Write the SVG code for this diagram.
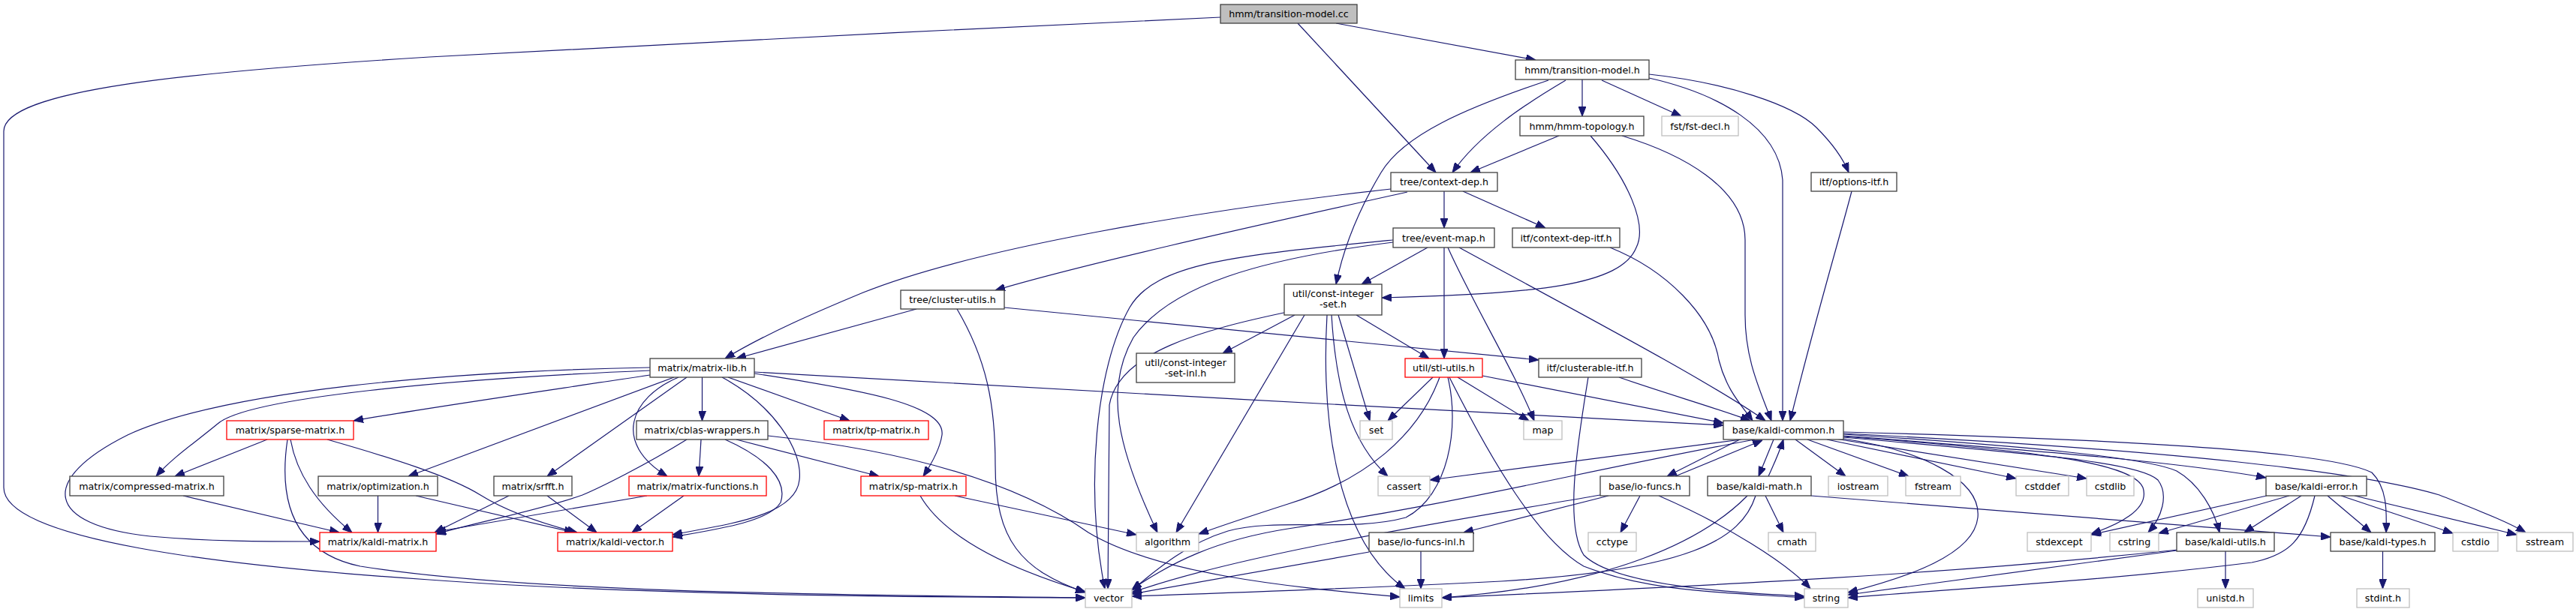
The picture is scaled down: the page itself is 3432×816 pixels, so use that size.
<svg xmlns="http://www.w3.org/2000/svg" width="3432" height="816" viewBox="0 0 3432 816">
<style>
rect{fill:#fff;stroke:#404040;stroke-width:1.3}
.root rect{fill:#bfbfbf}
.red rect{stroke:#ff0000}
.ext rect{stroke:#bfbfbf}
text{font-family:'DejaVu Sans','Liberation Sans',sans-serif;font-size:12.7px;text-anchor:middle;fill:#000}
#edges path{fill:none;stroke:#191970;stroke-width:1.2;marker-end:url(#ah)}
</style>
<defs>
<marker id="ah" markerWidth="13" markerHeight="10" refX="13" refY="5" orient="auto" markerUnits="userSpaceOnUse"><path d="M0,0 L13,5 L0,10 z" fill="#191970" stroke="#191970" stroke-width="1"/></marker>
</defs>
<rect x="0" y="0" width="3432" height="816" style="fill:#fff;stroke:none"/>
<g id="edges">
<path d="M1780,31 L2046,80"/>
<path d="M1729,31 L1913,230"/>
<path d="M1626,23 C1300,38 800,62 572,76 C250,96 5,120 5,175 L5,650 C5,720 300,755 572,773 C800,790 1100,796 1446,797"/>
<path d="M2086,107 C2030,140 1970,180 1935,230"/>
<path d="M2063,107 C1950,145 1870,180 1840,230 C1810,280 1790,330 1780,379"/>
<path d="M2108,106 L2108,155"/>
<path d="M2134,107 L2240,155"/>
<path d="M2197,99 C2300,110 2390,140 2420,170 C2440,190 2455,210 2463,230"/>
<path d="M2197,104 C2290,125 2370,170 2375,240 L2375,561"/>
<path d="M2077,181 L1959,230"/>
<path d="M2119,181 C2170,240 2195,300 2180,330 C2160,380 2050,392 1841,397"/>
<path d="M2161,181 C2240,205 2325,250 2325,320 L2325,420 C2325,480 2345,520 2360,561"/>
<path d="M1924,255 L1924,304"/>
<path d="M1949,255 L2059,304"/>
<path d="M1853,252 C1600,280 1300,330 1150,390 C1090,415 1020,445 966,478"/>
<path d="M1875,256 C1700,295 1450,350 1326,387"/>
<path d="M2467,255 C2450,320 2420,420 2385,561"/>
<path d="M1924,330 L1924,478"/>
<path d="M1902,330 L1814,379"/>
<path d="M1929,330 C1960,400 2020,500 2044,561"/>
<path d="M1944,330 C2100,415 2280,510 2352,561"/>
<path d="M1856,320 C1650,340 1540,350 1505,410 C1460,490 1445,650 1472,785"/>
<path d="M1856,323 C1680,345 1560,380 1510,450 C1470,520 1490,600 1542,710"/>
<path d="M2145,330 C2220,360 2280,420 2290,480 C2300,520 2320,540 2335,561"/>
<path d="M1807,420 L1904,478"/>
<path d="M1725,420 L1629,471"/>
<path d="M1783,420 L1825,561"/>
<path d="M1774,420 C1780,520 1800,590 1849,635"/>
<path d="M1768,420 C1760,560 1780,720 1872,785"/>
<path d="M1720,415 C1600,440 1490,470 1478,540 L1476,785"/>
<path d="M1738,420 L1567,710"/>
<path d="M1221,412 L981,478"/>
<path d="M1338,410 L2050,480"/>
<path d="M1275,412 C1315,480 1326,540 1326,620 C1326,720 1360,760 1446,790"/>
<path d="M1005,496 C1400,520 1900,545 2296,567"/>
<path d="M1005,498 C1150,520 1260,540 1255,580 C1252,600 1240,620 1230,635"/>
<path d="M970,503 L1132,561"/>
<path d="M935.5,503 L935.5,561"/>
<path d="M962,503 C1030,540 1070,600 1065,640 C1060,690 960,700 896,713"/>
<path d="M904,503 C840,530 815,590 889,635"/>
<path d="M915,503 L729,635"/>
<path d="M898,503 L544,635"/>
<path d="M866,500 C700,525 560,545 471,561"/>
<path d="M866,494 C600,505 330,530 290,565 C260,590 230,610 208,635"/>
<path d="M866,490 C600,495 300,520 170,580 C50,640 60,700 200,715 C280,722 350,722 426,722"/>
<path d="M915,586 C860,620 800,650 776,660 C720,680 640,695 581,712"/>
<path d="M934,586 L931,635"/>
<path d="M966,586 C1020,610 1050,640 1040,670 C1025,695 960,705 896,716"/>
<path d="M981,586 L1171,635"/>
<path d="M1023,581 C1200,600 1350,640 1450,710 C1550,770 1750,785 1865,796"/>
<path d="M678,661 L579,710"/>
<path d="M729,661 L795,710"/>
<path d="M862,661 L581,709"/>
<path d="M911,661 L842,710"/>
<path d="M503.5,661 L503.5,710"/>
<path d="M554,661 L765,710"/>
<path d="M244,661 L452,710"/>
<path d="M356,586 L233,635"/>
<path d="M387,586 C395,630 420,670 469,710"/>
<path d="M383,586 C372,660 385,735 480,755 C700,790 1100,793 1446,797"/>
<path d="M436,586 C520,610 600,635 640,660 C680,685 730,700 769,710"/>
<path d="M1226,661 C1260,720 1350,760 1446,789"/>
<path d="M1272,661 L1514,713"/>
<path d="M1909,503 L1849,561"/>
<path d="M1942,503 L2037,561"/>
<path d="M1918,503 C1890,580 1820,640 1716,672 C1660,690 1630,700 1597,712"/>
<path d="M1929,503 C1945,570 1930,660 1873,690 C1800,710 1700,690 1636,708 C1580,725 1540,760 1508,787"/>
<path d="M1931,503 C1990,620 2050,720 2110,755 C2200,790 2300,790 2404,797"/>
<path d="M1975,501 L2296,564"/>
<path d="M2157,503 C2220,525 2290,545 2332,561"/>
<path d="M2116,503 C2100,600 2085,700 2110,740 C2150,780 2300,790 2404,795"/>
<path d="M2363,586 L2343,635"/>
<path d="M2356,635 C2365,615 2370,605 2376,586"/>
<path d="M2392,586 L2459,635"/>
<path d="M2408,586 L2543,635"/>
<path d="M2434,586 L2686,638"/>
<path d="M2445,585 L2780,638"/>
<path d="M2456,585 C2560,600 2640,640 2635,690 C2630,740 2540,770 2462,790"/>
<path d="M2456,581 C2700,600 2900,615 3019,637"/>
<path d="M2456,579 C2700,595 2860,610 2900,628 C2930,645 2950,680 2957,710"/>
<path d="M2456,576 C2800,585 3100,600 3160,630 C3180,650 3180,680 3179,710"/>
<path d="M2456,578 C2900,600 3150,630 3250,660 C3300,680 3340,695 3365,710"/>
<path d="M2456,582 C2700,600 2840,615 2855,650 C2865,680 2820,700 2786,712"/>
<path d="M2456,583 C2700,605 2850,615 2875,640 C2890,660 2880,690 2862,710"/>
<path d="M2320,586 L1905,640"/>
<path d="M2338,586 C2100,630 1950,670 1716,705 C1620,720 1560,750 1508,786"/>
<path d="M2318,586 L2221,635"/>
<path d="M2232,635 L2348,587"/>
<path d="M2185,661 L2159,710"/>
<path d="M2143,661 L1950,710"/>
<path d="M2210,661 C2300,700 2380,750 2412,785"/>
<path d="M2132,660 C1900,700 1650,740 1508,790"/>
<path d="M1893,735 L1893,785"/>
<path d="M1824,736 L1508,792"/>
<path d="M2352,661 L2376,710"/>
<path d="M2413,661 C2700,685 2950,705 3105,716"/>
<path d="M2328,661 C2270,720 2150,780 1921,797"/>
<path d="M2339,661 C2320,720 2250,760 2000,775 C1800,785 1650,790 1508,795"/>
<path d="M3020,661 L2786,713"/>
<path d="M3050,661 L2876,711"/>
<path d="M3066,661 L2990,710"/>
<path d="M3084,661 C3070,720 3050,740 3000,750 C2800,775 2600,785 2462,797"/>
<path d="M3101,661 L3159,710"/>
<path d="M3119,661 L3268,711"/>
<path d="M3137,661 L3353,713"/>
<path d="M2965,735 L2965,785"/>
<path d="M2900,734 C2700,760 2550,780 2462,793"/>
<path d="M2902,733 C2600,765 2300,780 1921,797"/>
<path d="M3174.5,735 L3174.5,785"/>
</g>
<g id="n_root" class="root"><rect x="1626" y="6" width="182" height="25"/><text x="1717" y="23">hmm/transition-model.cc</text></g>
<g id="n_tm_h"><rect x="2019" y="80" width="178" height="26"/><text x="2108" y="97.5">hmm/transition-model.h</text></g>
<g id="n_topo"><rect x="2025" y="155" width="165" height="26"/><text x="2107.5" y="172.5">hmm/hmm-topology.h</text></g>
<g id="n_fst" class="ext"><rect x="2214" y="155" width="102" height="26"/><text x="2265" y="172.5">fst/fst-decl.h</text></g>
<g id="n_cdep"><rect x="1853" y="230" width="142" height="25"/><text x="1924" y="247">tree/context-dep.h</text></g>
<g id="n_optitf"><rect x="2413" y="230" width="114" height="25"/><text x="2470" y="247">itf/options-itf.h</text></g>
<g id="n_emap"><rect x="1856" y="304" width="135" height="26"/><text x="1923.5" y="321.5">tree/event-map.h</text></g>
<g id="n_cdepitf"><rect x="2015" y="304" width="143" height="26"/><text x="2086.5" y="321.5">itf/context-dep-itf.h</text></g>
<g id="n_cis"><rect x="1711" y="379" width="130" height="41"/><text x="1776" y="396">util/const-integer</text><text x="1776" y="409.5">-set.h</text></g>
<g id="n_cutils"><rect x="1200" y="387" width="138" height="25"/><text x="1269" y="404">tree/cluster-utils.h</text></g>
<g id="n_mlib"><rect x="866" y="478" width="139" height="25"/><text x="935.5" y="495">matrix/matrix-lib.h</text></g>
<g id="n_stl" class="red"><rect x="1872" y="478" width="103" height="25"/><text x="1923.5" y="495">util/stl-utils.h</text></g>
<g id="n_clus"><rect x="2050" y="478" width="137" height="25"/><text x="2118.5" y="495">itf/clusterable-itf.h</text></g>
<g id="n_cisinl"><rect x="1514" y="471" width="131" height="39"/><text x="1579.5" y="488">util/const-integer</text><text x="1579.5" y="501.5">-set-inl.h</text></g>
<g id="n_sparse" class="red"><rect x="302" y="561" width="169" height="25"/><text x="386.5" y="578">matrix/sparse-matrix.h</text></g>
<g id="n_cblas"><rect x="848" y="561" width="175" height="25"/><text x="935.5" y="578">matrix/cblas-wrappers.h</text></g>
<g id="n_tp" class="red"><rect x="1098" y="561" width="139" height="25"/><text x="1167.5" y="578">matrix/tp-matrix.h</text></g>
<g id="n_set" class="ext"><rect x="1812" y="561" width="43" height="25"/><text x="1833.5" y="578">set</text></g>
<g id="n_map" class="ext"><rect x="2030" y="561" width="51" height="25"/><text x="2055.5" y="578">map</text></g>
<g id="n_kcommon"><rect x="2296" y="561" width="160" height="25"/><text x="2376" y="578">base/kaldi-common.h</text></g>
<g id="n_compressed"><rect x="93" y="635" width="205" height="26"/><text x="195.5" y="652.5">matrix/compressed-matrix.h</text></g>
<g id="n_optim"><rect x="424" y="635" width="159" height="26"/><text x="503.5" y="652.5">matrix/optimization.h</text></g>
<g id="n_srfft"><rect x="658" y="635" width="104" height="26"/><text x="710" y="652.5">matrix/srfft.h</text></g>
<g id="n_mfunc" class="red"><rect x="838" y="635" width="183" height="26"/><text x="929.5" y="652.5">matrix/matrix-functions.h</text></g>
<g id="n_sp" class="red"><rect x="1147" y="635" width="140" height="26"/><text x="1217" y="652.5">matrix/sp-matrix.h</text></g>
<g id="n_cassert" class="ext"><rect x="1836" y="635" width="69" height="26"/><text x="1870.5" y="652.5">cassert</text></g>
<g id="n_iofuncs"><rect x="2132" y="635" width="119" height="26"/><text x="2191.5" y="652.5">base/io-funcs.h</text></g>
<g id="n_kmath"><rect x="2275" y="635" width="138" height="26"/><text x="2344" y="652.5">base/kaldi-math.h</text></g>
<g id="n_iostream" class="ext"><rect x="2436" y="635" width="79" height="26"/><text x="2475.5" y="652.5">iostream</text></g>
<g id="n_fstream" class="ext"><rect x="2539" y="635" width="73" height="26"/><text x="2575.5" y="652.5">fstream</text></g>
<g id="n_cstddef" class="ext"><rect x="2686" y="635" width="70" height="26"/><text x="2721" y="652.5">cstddef</text></g>
<g id="n_cstdlib" class="ext"><rect x="2780" y="635" width="63" height="26"/><text x="2811.5" y="652.5">cstdlib</text></g>
<g id="n_kerror"><rect x="3019" y="635" width="134" height="26"/><text x="3086" y="652.5">base/kaldi-error.h</text></g>
<g id="n_kmatrix" class="red"><rect x="426" y="710" width="155" height="25"/><text x="503.5" y="727">matrix/kaldi-matrix.h</text></g>
<g id="n_kvector" class="red"><rect x="743" y="710" width="153" height="25"/><text x="819.5" y="727">matrix/kaldi-vector.h</text></g>
<g id="n_algorithm" class="ext"><rect x="1514" y="710" width="83" height="25"/><text x="1555.5" y="727">algorithm</text></g>
<g id="n_iofinl"><rect x="1824" y="710" width="139" height="25"/><text x="1893.5" y="727">base/io-funcs-inl.h</text></g>
<g id="n_cctype" class="ext"><rect x="2116" y="710" width="64" height="25"/><text x="2148" y="727">cctype</text></g>
<g id="n_cmath" class="ext"><rect x="2356" y="710" width="63" height="25"/><text x="2387.5" y="727">cmath</text></g>
<g id="n_stdexcept" class="ext"><rect x="2701" y="710" width="85" height="25"/><text x="2743.5" y="727">stdexcept</text></g>
<g id="n_cstring" class="ext"><rect x="2811" y="710" width="65" height="25"/><text x="2843.5" y="727">cstring</text></g>
<g id="n_kutils"><rect x="2900" y="710" width="130" height="25"/><text x="2965" y="727">base/kaldi-utils.h</text></g>
<g id="n_ktypes"><rect x="3105" y="710" width="139" height="25"/><text x="3174.5" y="727">base/kaldi-types.h</text></g>
<g id="n_cstdio" class="ext"><rect x="3268" y="710" width="60" height="25"/><text x="3298" y="727">cstdio</text></g>
<g id="n_sstream" class="ext"><rect x="3353" y="710" width="75" height="25"/><text x="3390.5" y="727">sstream</text></g>
<g id="n_vector" class="ext"><rect x="1446" y="785" width="62" height="25"/><text x="1477" y="802">vector</text></g>
<g id="n_limits" class="ext"><rect x="1865" y="785" width="56" height="25"/><text x="1893" y="802">limits</text></g>
<g id="n_string" class="ext"><rect x="2404" y="785" width="58" height="25"/><text x="2433" y="802">string</text></g>
<g id="n_unistd" class="ext"><rect x="2928" y="785" width="74" height="25"/><text x="2965" y="802">unistd.h</text></g>
<g id="n_stdint" class="ext"><rect x="3140" y="785" width="70" height="25"/><text x="3175" y="802">stdint.h</text></g>
</svg>
